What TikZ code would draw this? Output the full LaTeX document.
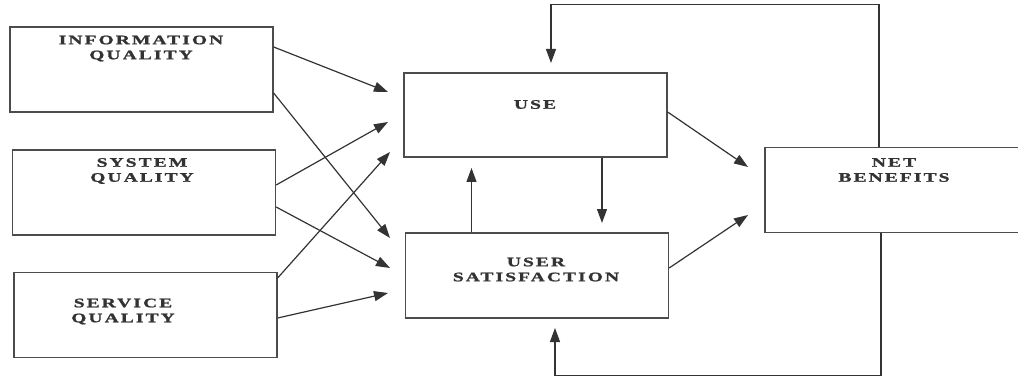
\documentclass[tikz,border=0pt]{standalone}
\usepackage{fontspec}
\setmainfont{Liberation Serif}[FakeStretch=1.5,LetterSpace=16,BoldFeatures={FakeBold=1.3}]
\usetikzlibrary{arrows.meta,positioning}

\begin{document}
\begin{tikzpicture}
    [ x=1pt, y=-1pt
    , box/.style={draw=black!70,line width=1.3pt,minimum width=263pt,minimum height=85pt,inner sep=0pt}
    , txt/.style={font=\bfseries\fontsize{13}{15}\selectfont,align=center,text=black!80,inner sep=0pt}
    , link/.style={draw=black!80,line width=1.2pt,-{Triangle[length=14pt,width=10pt]}}
    ]
    \useasboundingbox (0,0) rectangle (1018,377);

    % the boxes
    \node [box] (info) at (141.5,69.5) {};
    \node [box] (sys)  at (144,192.5)  {};
    \node [box] (serv) at (145.5,315)  {};
    \node [box, minimum height=84pt] (use)  at (535.5,115) {};
    \node [box] (usat) at (537,275.5)  {};
    \node [box, minimum width=260pt] (net) at (895,190) {};

    \node [txt] (info text) at (141,48.5)  {INFORMATION\\QUALITY};
    \node [txt] (sys text)  at (142,171)   {SYSTEM\\QUALITY};
    \node [txt] (serv text) at (123,311.5) {SERVICE\\QUALITY};
    \node [txt] (use text)  at (535,104.5) {USE};
    \node [txt] (usat text) at (536,269.5) {USER\\SATISFACTION};
    \node [txt] (net text)  at (894,170)   {NET\\BENEFITS};

    % free arrow ends
    \coordinate (use in1)  at (388,92);
    \coordinate (use in2)  at (388,122);
    \coordinate (use in3)  at (390,152);
    \coordinate (usat in1) at (390,238);
    \coordinate (usat in2) at (390,268);
    \coordinate (usat in3) at (388,293);
    \coordinate (net in1)  at (748,167);
    \coordinate (net in2)  at (748,215);
    \coordinate (usat top) at (602,223);
    \coordinate (use bot)  at (471.5,168);
    \coordinate (use fb)   at (551,63);
    \coordinate (usat fb)  at (555,328);

    \draw [link] ([yshift=22.5pt]info.east) -- (use in1);
    \draw [link] ([yshift=-23.5pt]info.east) -- (usat in1);
    \draw [link] ([yshift=7.5pt]sys.east) -- (use in2);
    \draw [link] ([yshift=-14.5pt]sys.east) -- (usat in2);
    \draw [link] ([yshift=37pt]serv.east) -- (use in3);
    \draw [link] ([yshift=-3pt]serv.east) -- (usat in3);

    \draw [link] ([yshift=3pt]use.east) -- (net in1);
    \draw [link] ([yshift=7.5pt]usat.east) -- (net in2);
    \draw [link] ([xshift=66.5pt]use.south) -- (usat top);
    \draw [link] ([xshift=-65.5pt]usat.north) -- (use bot);

    % feedback loops
    \draw [link] ([xshift=-16pt]net.north) -- ++(0,-142) -| (use fb);
    \draw [link] ([xshift=-14pt]net.south) -- ++(0,142) -| (usat fb);
  \end{tikzpicture}
\end{document}
